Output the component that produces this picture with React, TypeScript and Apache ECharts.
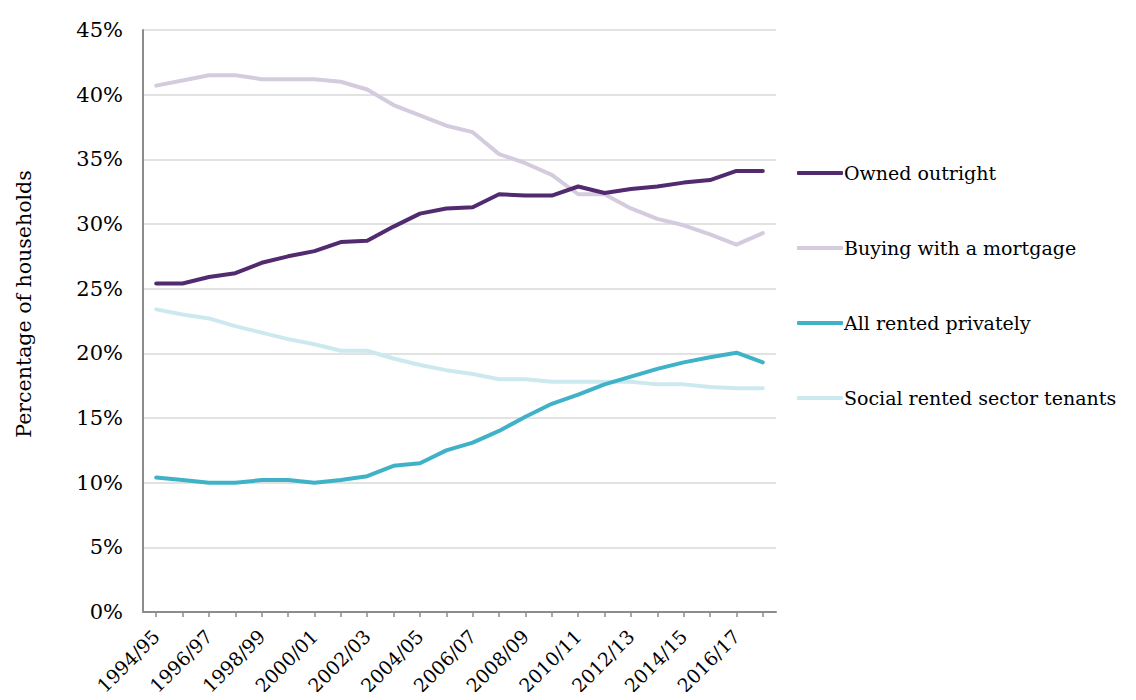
import React, { useEffect, useRef } from "react";
import * as echarts from "echarts";

const years = [
  "1994/95", "1995/96", "1996/97", "1997/98", "1998/99", "1999/00", "2000/01", "2001/02",
  "2002/03", "2003/04", "2004/05", "2005/06", "2006/07", "2007/08", "2008/09", "2009/10",
  "2010/11", "2011/12", "2012/13", "2013/14", "2014/15", "2015/16", "2016/17", "2017/18",
];

const ownedOutright = [
  25.4, 25.4, 25.9, 26.2, 27.0, 27.5, 27.9, 28.6, 28.7, 29.8, 30.8, 31.2,
  31.3, 32.3, 32.2, 32.2, 32.9, 32.4, 32.7, 32.9, 33.2, 33.4, 34.1, 34.1,
];
const mortgage = [
  40.7, 41.1, 41.5, 41.5, 41.2, 41.2, 41.2, 41.0, 40.4, 39.2, 38.4, 37.6,
  37.1, 35.4, 34.7, 33.8, 32.3, 32.3, 31.2, 30.4, 29.9, 29.2, 28.4, 29.3,
];
const privateRented = [
  10.4, 10.2, 10.0, 10.0, 10.2, 10.2, 10.0, 10.2, 10.5, 11.3, 11.5, 12.5,
  13.1, 14.0, 15.1, 16.1, 16.8, 17.6, 18.2, 18.8, 19.3, 19.7, 20.05, 19.3,
];
const socialRented = [
  23.4, 23.0, 22.7, 22.1, 21.6, 21.1, 20.7, 20.2, 20.2, 19.6, 19.1, 18.7,
  18.4, 18.0, 18.0, 17.8, 17.8, 17.8, 17.8, 17.6, 17.6, 17.4, 17.3, 17.3,
];

const seriesNames = [
  "Owned outright",
  "Buying with a mortgage",
  "All rented privately",
  "Social rented sector tenants",
];
const seriesColors = ["#512a70", "#d5cbdf", "#40b2c8", "#cde9f0"];
const yAxisTitle = "Percentage of households";

const FONT = "DejaVu Serif";

export default function App() {
  const ref = useRef<HTMLDivElement>(null);

  useEffect(() => {
    if (!ref.current) return;
    const chart = echarts.init(ref.current, undefined, { renderer: "svg" });
    const dataSets = [ownedOutright, mortgage, privateRented, socialRented];
    chart.setOption({
      animation: false,
      textStyle: { fontFamily: FONT },
      grid: { left: 143, right: 360, top: 30, bottom: 88, containLabel: false },
      graphic: [
        {
          type: "text",
          x: 24,
          y: 304,
          rotation: Math.PI / 2,
          style: {
            text: yAxisTitle,
            fontFamily: FONT,
            fontSize: 20.5,
            fill: "#000",
            align: "center",
            verticalAlign: "middle",
          },
        },
      ],
      legend: {
        orient: "vertical",
        left: 792,
        top: 158,
        itemGap: 55,
        itemWidth: 46,
        itemHeight: 4,
        icon: "roundRect",
        textStyle: { fontFamily: FONT, fontSize: 19, color: "#000", lineHeight: 20, padding: [0, 0, 0, -4] },
        data: seriesNames,
      },
      xAxis: {
        type: "category",
        data: years,
        boundaryGap: true,
        axisLine: { show: true, lineStyle: { color: "#8c8c8c", width: 2 } },
        axisTick: { show: true, interval: 0, alignWithLabel: true, length: 5, lineStyle: { color: "#8c8c8c", width: 1.5 } },
        axisLabel: {
          interval: 1,
          rotate: 45,
          fontFamily: FONT,
          fontSize: 19,
          color: "#000",
          margin: 21,
        },
        splitLine: { show: false },
      },
      yAxis: {
        type: "value",
        min: 0,
        max: 45,
        interval: 5,
        axisLine: { show: true, lineStyle: { color: "#8c8c8c", width: 2 } },
        axisTick: { show: false },
        axisLabel: {
          formatter: "{value}%",
          fontFamily: FONT,
          fontSize: 21,
          color: "#000",
          margin: 20,
        },
        splitLine: { show: true, lineStyle: { color: "#e2e2e2", width: 2 } },
      },
      series: seriesNames.map((name, i) => ({
        name,
        type: "line",
        data: dataSets[i],
        symbol: "none",
        lineStyle: { color: seriesColors[i], width: 4, cap: "round", join: "round" },
        itemStyle: { color: seriesColors[i] },
        z: 4 - i,
      })),
    });
    return () => chart.dispose();
  }, []);

  return <div ref={ref} style={{ width: 1136, height: 700, margin: -8 }} />;
}
